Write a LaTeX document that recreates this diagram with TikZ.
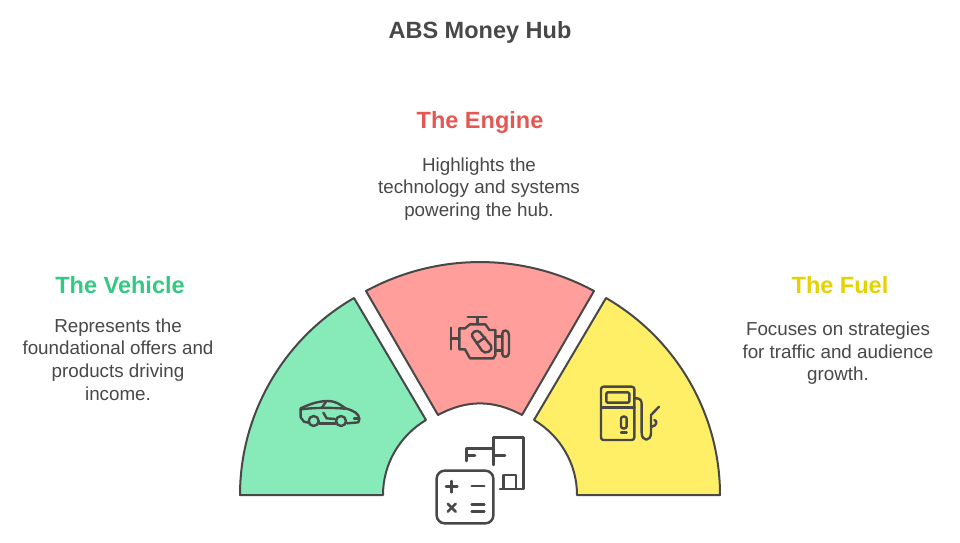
\documentclass[tikz,border=0pt]{standalone}
\usepackage{fontspec}
\setmainfont{Liberation Sans}
\definecolor{ink}{HTML}{484848}
\definecolor{greenfill}{HTML}{86EBB9}
\definecolor{redfill}{HTML}{FF9E9B}
\definecolor{yellowfill}{HTML}{FFEF66}
\definecolor{greenhead}{HTML}{34C983}
\definecolor{redhead}{HTML}{E55753}
\definecolor{yellowhead}{HTML}{E5D200}
\tikzset{
  sector/.style={draw=ink,line width=2pt,line join=round},
  icon/.style={draw=ink,line width=2.4pt,line cap=round,line join=round},
  iconbig/.style={draw=ink,line width=2.5pt,line cap=round,line join=round},
  heading/.style={font=\fontsize{23.5}{28}\selectfont\bfseries,anchor=center},
  body/.style={font=\fontsize{18.8}{22.6}\selectfont,text=ink,align=center,anchor=center},
}
\begin{document}
\begin{tikzpicture}[x=1pt,y=-1pt]
\useasboundingbox (0,0) rectangle (960,542);
\fill[white] (0,0) rectangle (960,542);
% sectors
\draw[sector,fill=greenfill] (240,495) .. controls (240,413.8) and (283.7,338.6) .. (354,298) -- (426,420) .. controls (399.4,436) and (383,464) .. (383,495) -- cycle;
\draw[sector,fill=yellowfill] (720,495) .. controls (720,413.8) and (676.3,338.6) .. (606,298) -- (534,420) .. controls (560.6,436) and (577,464) .. (577,495) -- cycle;
\draw[sector,fill=redfill] (366,291) .. controls (437.3,252.4) and (522.7,252.4) .. (594,291) -- (522,415) .. controls (493.3,399.5) and (466.7,399.5) .. (438,415) -- cycle;
% texts
\node[font=\fontsize{23.5}{28}\selectfont\bfseries,text=ink] (title) at (480,32) {ABS Money Hub};
\node[heading,text=redhead] (engineh) at (480,122) {The Engine};
\node[body] (enginet) at (479,189) {Highlights the\\technology and systems\\powering the hub.};
\node[heading,text=greenhead] (vehicleh) at (120,285.5) {The Vehicle};
\node[body] (vehiclet) at (118,359.5) {Represents the\\foundational offers and\\products driving\\income.};
\node[heading,text=yellowhead] (fuelh) at (840,285.5) {The Fuel};
\node[body] (fuelt) at (838,353.5) {Focuses on strategies\\for traffic and audience\\growth.};
% engine icon
\begin{scope}[shift={(420,280)},scale=1/3]
\draw[icon] (143,111) -- (200,111) (172,111) -- (172,133);
\draw[icon] (135,145) -- (150,133) -- (196,133) -- (208,150) -- (226,150) -- (226,225) -- (220,235) -- (150,235) -- (135,208) -- (118,208) -- (118,145) -- cycle;
\draw[icon] (93,143) -- (93,208) (93,175) -- (118,175);
\draw[icon] (226,170) -- (247,170) (226,212) -- (247,212);
\draw[icon] (247,160) .. controls (247,148) and (267,148) .. (267,165) -- (267,218) .. controls (267,234) and (247,234) .. (247,222) -- cycle;
\draw[icon] (157,170) .. controls (150,158) and (172,146) .. (180,157) -- (213,197) .. controls (222,212) and (195,225) .. (186,212) -- cycle;
\draw[icon] (170,190) -- (196,172);
\end{scope}
% car icon
\begin{scope}[shift={(280,380)},scale=1/3]
\draw[icon] (85,128) -- (72,125) -- (62,112) -- (62,85) .. controls (85,75) and (105,65) .. (140,63) .. controls (170,62) and (185,78) .. (197,85) .. controls (220,92) and (238,100) .. (238,118) -- (235,127) -- (201,130);
\draw[icon] (118,130) -- (167,130);
\draw[icon] (62,88) .. controls (100,83) and (150,82) .. (195,86);
\draw[icon] (138,65) -- (125,84);
\draw[icon] (130,98) -- (140,115) -- (165,117);
\draw[icon] (222,115) -- (238,115);
\draw[icon] (101,123) circle[radius=15];
\draw[icon] (183,123) circle[radius=15];
\end{scope}
% fuel icon
\begin{scope}[shift={(585,370)},scale=1/3]
\draw[icon,rounded corners=2.5pt] (48,50) rectangle (148,210);
\draw[icon,rounded corners=1.2pt] (64,67) rectangle (133,98);
\draw[icon] (48,112) -- (148,112);
\draw[icon,rounded corners=2pt] (108,140) rectangle (125,175);
\draw[icon] (108,187) -- (125,187);
\draw[icon] (148,85) -- (155,85) .. controls (165,85) and (170,92) .. (170,102) -- (170,188) .. controls (170,216) and (198,216) .. (198,188) -- (198,135) -- (222,110);
\draw[icon] (208,150) .. controls (218,152) and (216,168) .. (200,170);
\end{scope}
% calculator icon
\begin{scope}[shift={(425,425)},scale=1/3]
\draw[iconbig,rounded corners=8pt] (35,137) rectangle (205,295);
\draw[iconbig] (63,185) -- (97,185) (80,168) -- (80,202);
\draw[iconbig] (140,183) -- (178,183);
\draw[iconbig] (68,236) -- (92,260) (92,236) -- (68,260);
\draw[iconbig] (140,238) -- (178,238) (140,260) -- (178,260);
\draw[iconbig] (205,120) -- (205,37) -- (295,37) -- (295,192) -- (225,192);
\draw[iconbig] (205,70) -- (125,70) -- (125,108);
\draw[iconbig] (125,92) -- (150,92) (205,92) -- (240,92);
\draw[iconbig] (235,190) -- (235,150) -- (273,150) -- (273,190);
\end{scope}
\end{tikzpicture}
\end{document}
